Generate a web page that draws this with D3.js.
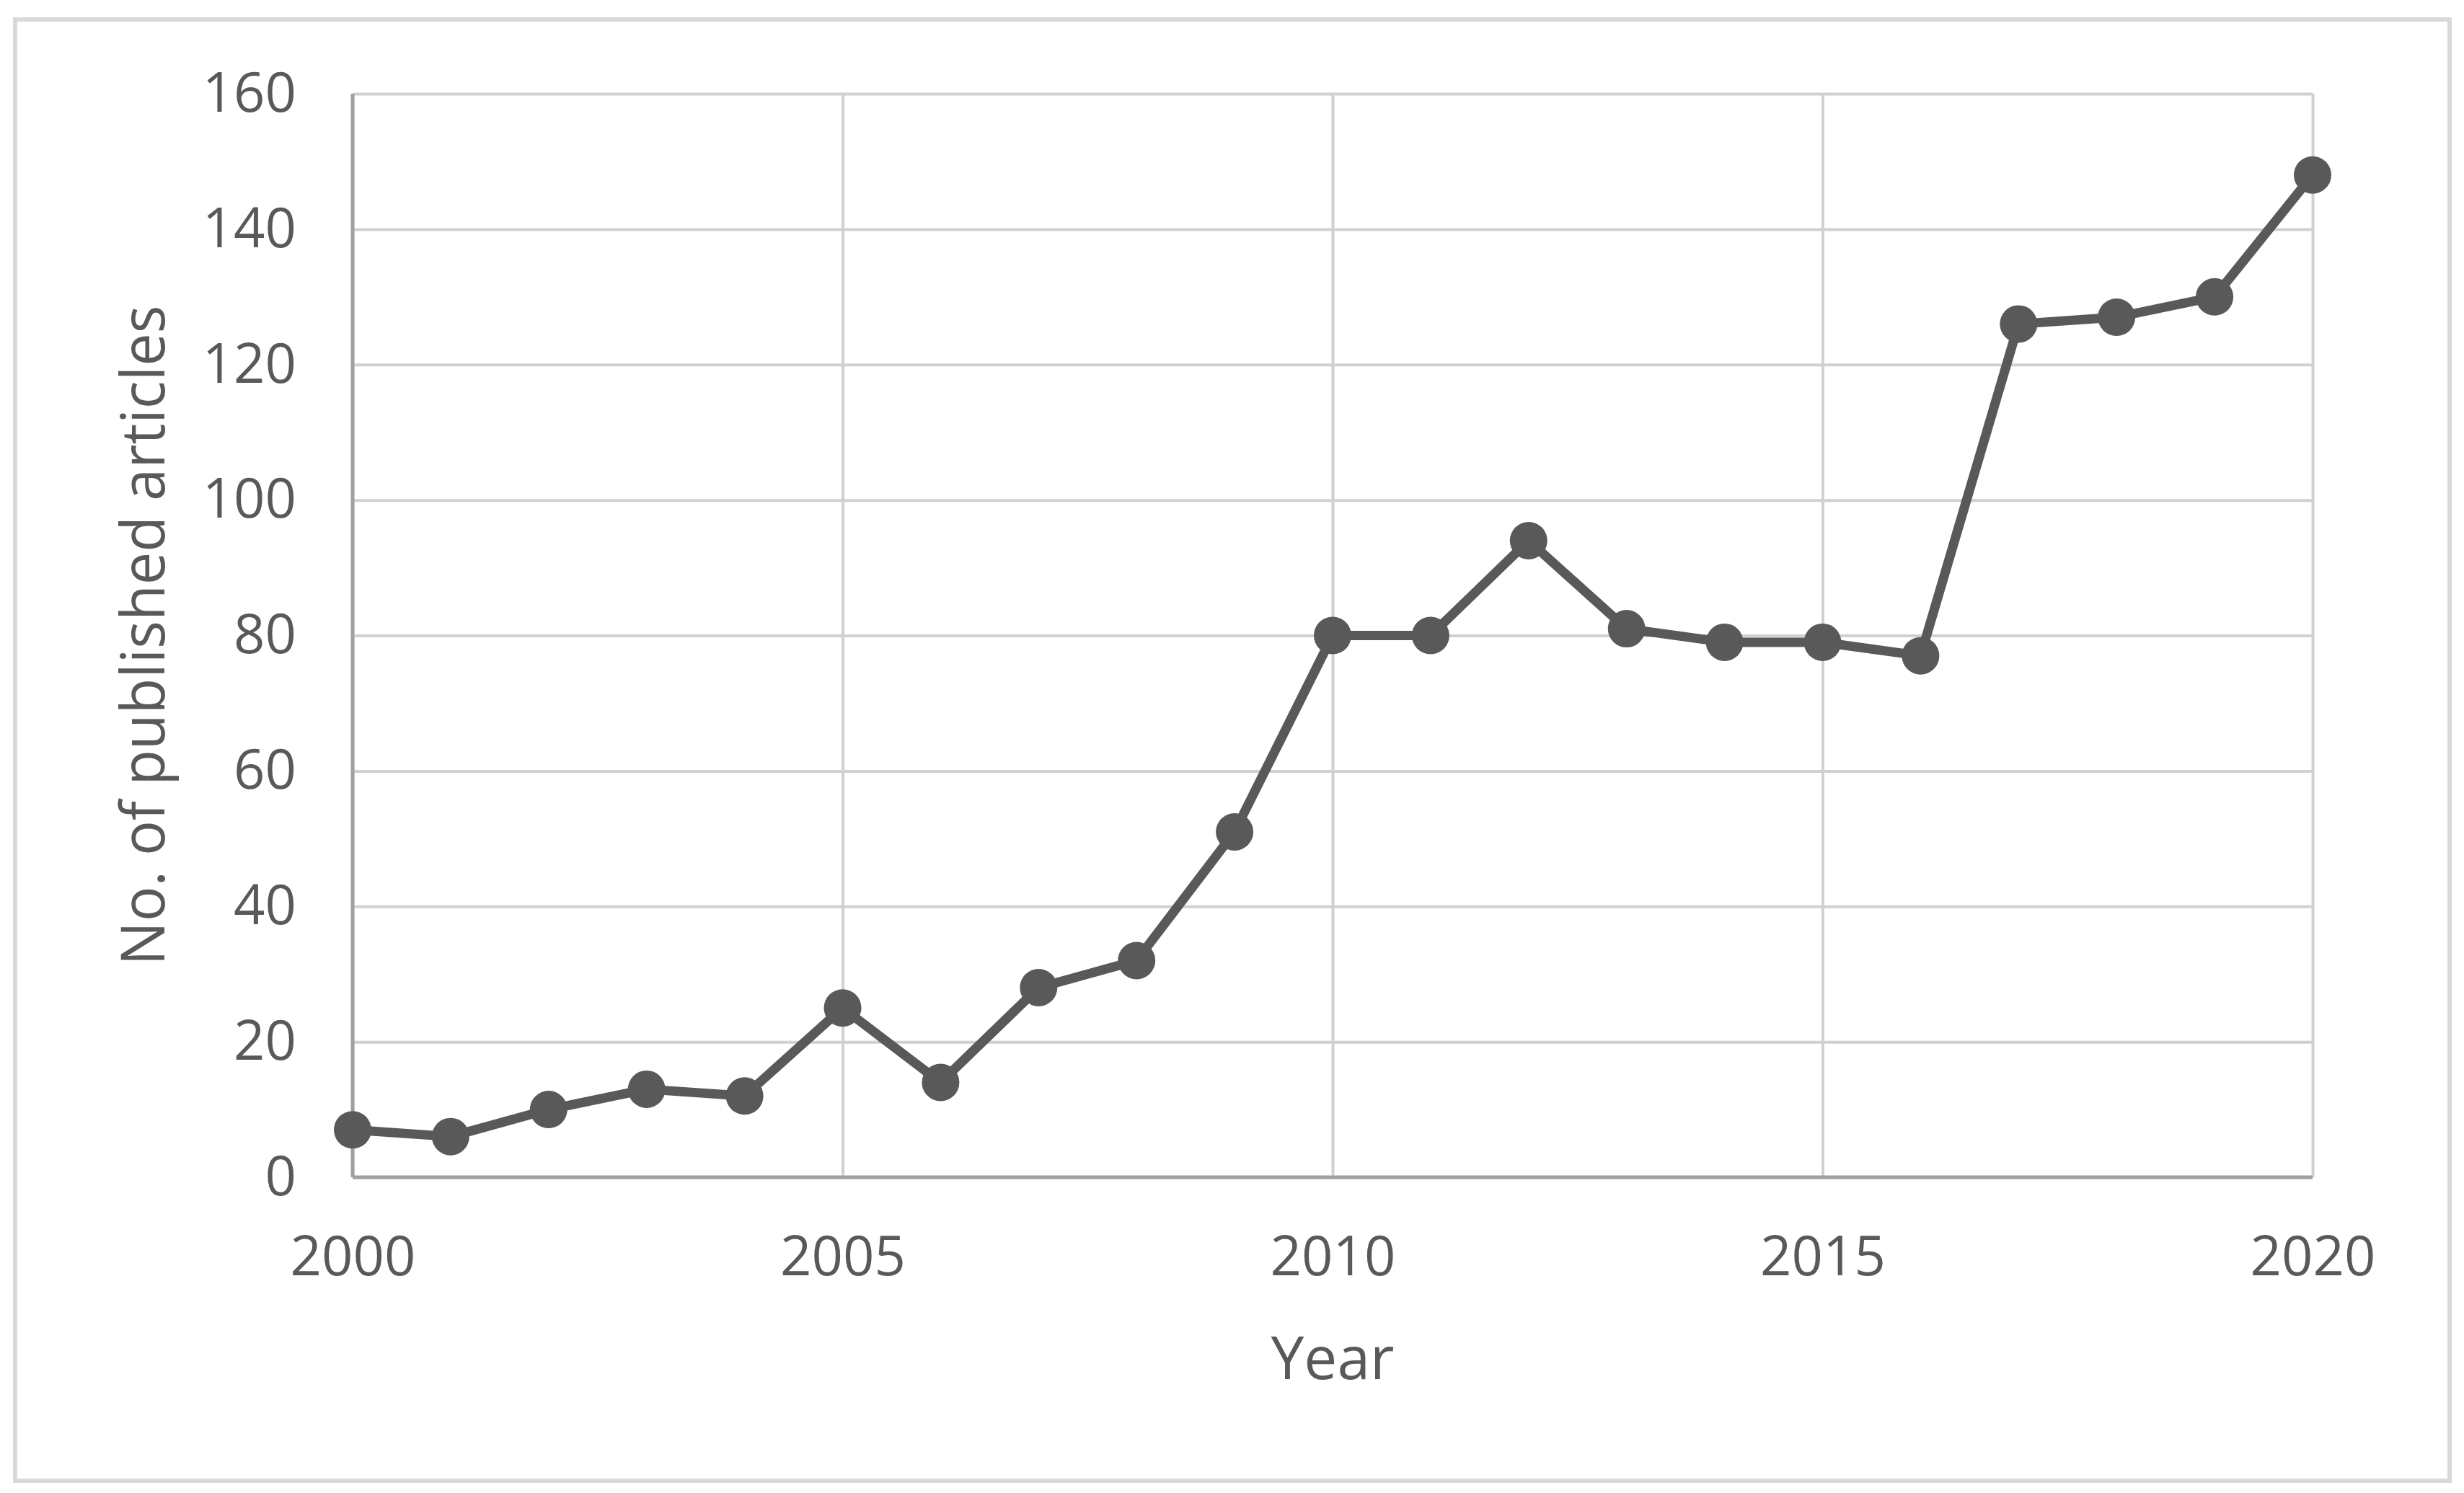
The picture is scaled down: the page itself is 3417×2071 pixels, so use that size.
<!DOCTYPE html>
<html>
<head>
<meta charset="utf-8">
<script src="https://cdn.jsdelivr.net/npm/d3@7"></script>
<style>
  html, body { margin: 0; padding: 0; background: #ffffff; }
  svg { display: block; }
  text { font-family: "Open Sans", "Noto Sans", sans-serif; fill: #595959; }
</style>
</head>
<body>
<svg id="chart" width="3417" height="2071"></svg>
<script>
// ---- data ----
const years = [2000, 2001, 2002, 2003, 2004, 2005, 2006, 2007, 2008, 2009, 2010,
               2011, 2012, 2013, 2014, 2015, 2016, 2017, 2018, 2019, 2020];
const articles = [7, 6, 10, 13, 12, 25, 14, 28, 32, 51, 80,
                  80, 94, 81, 79, 79, 77, 126, 127, 130, 148];
const xTicks = [2000, 2005, 2010, 2015, 2020];
const yTicks = [0, 20, 40, 60, 80, 100, 120, 140, 160];
const xTitle = "Year";
const yTitle = "No. of published articles";

(function () {
  // ---- layout ----
  const pL = 489, pR = 3207, pT = 130, pB = 1633;
  const ink = "#595959";

  const svg = d3.select("#chart");

  // outer frame
  svg.append("rect")
    .attr("x", 21).attr("y", 27)
    .attr("width", 3376).attr("height", 2027)
    .attr("fill", "#ffffff")
    .attr("stroke", "#d9d9d9")
    .attr("stroke-width", 6);

  const x = d3.scaleLinear().domain([2000, 2020]).range([pL, pR]);
  const y = d3.scaleLinear().domain([0, 160]).range([pB, pT]);

  // horizontal gridlines
  const gy = svg.append("g")
    .attr("transform", `translate(${pL},0)`)
    .call(d3.axisLeft(y).tickValues(yTicks).tickSize(-(pR - pL)).tickFormat(""));
  gy.select(".domain").remove();
  gy.selectAll(".tick line").attr("stroke", "#d0d0d0").attr("stroke-width", 4);

  // vertical gridlines
  const gx = svg.append("g")
    .attr("transform", `translate(0,${pB})`)
    .call(d3.axisBottom(x).tickValues(xTicks).tickSize(-(pB - pT)).tickFormat(""));
  gx.select(".domain").remove();
  gx.selectAll(".tick line").attr("stroke", "#d0d0d0").attr("stroke-width", 4);

  // axis lines
  svg.append("line")
    .attr("x1", x(2000)).attr("x2", x(2000))
    .attr("y1", y(160)).attr("y2", y(0))
    .attr("stroke", "#a0a0a0").attr("stroke-width", 5);
  svg.append("line")
    .attr("x1", x(2000)).attr("x2", x(2020))
    .attr("y1", y(0)).attr("y2", y(0))
    .attr("stroke", "#a0a0a0").attr("stroke-width", 5);

  // y tick labels
  const yLab = svg.append("g")
    .attr("transform", `translate(${pL},0)`)
    .call(d3.axisLeft(y).tickValues(yTicks).tickSize(0).tickPadding(78).tickFormat(d3.format("d")));
  yLab.select(".domain").remove();
  yLab.selectAll(".tick text")
    .attr("font-size", 76)
    .attr("fill", ink)
    .attr("dy", "0.32em")
    .style("font-family", '"Open Sans", sans-serif');

  // x tick labels
  const xLab = svg.append("g")
    .attr("transform", `translate(0,${pB})`)
    .call(d3.axisBottom(x).tickValues(xTicks).tickSize(0).tickPadding(82).tickFormat(d3.format("d")));
  xLab.select(".domain").remove();
  xLab.selectAll(".tick text")
    .attr("font-size", 76)
    .attr("fill", ink)
    .attr("dy", "0.71em")
    .style("font-family", '"Open Sans", sans-serif');

  // line
  const line = d3.line().x((d, i) => x(years[i])).y(d => y(d));
  svg.append("path")
    .datum(articles)
    .attr("d", line)
    .attr("fill", "none")
    .attr("stroke", ink)
    .attr("stroke-width", 13)
    .attr("stroke-linejoin", "round");

  // markers
  svg.append("g").selectAll("circle")
    .data(articles)
    .join("circle")
    .attr("cx", (d, i) => x(years[i]))
    .attr("cy", d => y(d))
    .attr("r", 26)
    .attr("fill", ink);

  // axis titles
  svg.append("text")
    .attr("x", (pL + pR) / 2)
    .attr("y", 1913)
    .attr("text-anchor", "middle")
    .attr("font-size", 82)
    .text(xTitle);

  svg.append("text")
    .attr("transform", `translate(228,${(pT + pB) / 2}) rotate(-90)`)
    .attr("text-anchor", "middle")
    .attr("font-size", 84)
    .attr("textLength", 916)
    .attr("lengthAdjust", "spacingAndGlyphs")
    .text(yTitle);
})();
</script>
</body>
</html>
